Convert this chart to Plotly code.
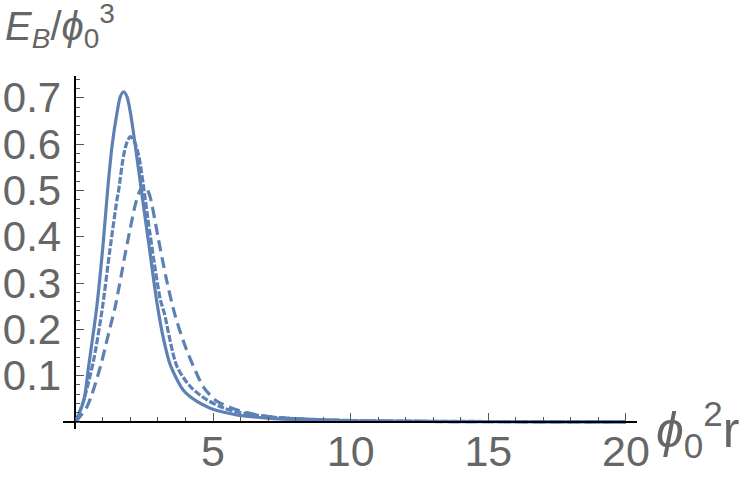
import plotly.graph_objects as go

# Curve data (x = phi0^2 r, y = E_B / phi0^3)
x_solid = [0, 0.3, 0.48, 0.77, 1.0, 1.17, 1.33, 1.51, 1.63, 1.75, 1.87, 2.0, 2.18, 2.42, 2.7, 2.97, 3.2, 3.45, 3.93, 4.4, 4.9, 5.4, 5.9, 7.1, 8.9, 11, 14, 17, 20]
y_solid = [0, 0.045, 0.12, 0.245, 0.38, 0.50, 0.595, 0.667, 0.702, 0.713, 0.703, 0.667, 0.595, 0.49, 0.37, 0.255, 0.18, 0.123, 0.068, 0.045, 0.030, 0.021, 0.015, 0.008, 0.004, 0.002, 0.001, 0.0005, 0.0003]

x_dashdot = [0, 0.3, 0.65, 0.97, 1.25, 1.51, 1.57, 1.75, 1.88, 2.0, 2.13, 2.3, 2.54, 2.63, 2.9, 3.09, 3.23, 3.69, 4.2, 4.78, 5.4, 6.2, 7.5, 9.5, 12, 16, 20]
y_dashdot = [0, 0.047, 0.13, 0.242, 0.37, 0.48, 0.50, 0.575, 0.605, 0.616, 0.607, 0.575, 0.48, 0.44, 0.33, 0.263, 0.235, 0.12, 0.075, 0.048, 0.03, 0.018, 0.009, 0.004, 0.002, 0.001, 0.0004]

x_dashed = [0, 0.42, 0.91, 1.2, 1.45, 1.8, 2.0, 2.18, 2.33, 2.47, 2.6, 2.72, 3.0, 3.3, 3.6, 3.95, 4.29, 4.66, 5.14, 6.1, 7.1, 8.5, 10, 13, 16, 20]
y_dashed = [0, 0.033, 0.12, 0.19, 0.25, 0.36, 0.42, 0.47, 0.498, 0.51, 0.503, 0.485, 0.40, 0.31, 0.235, 0.17, 0.12, 0.075, 0.045, 0.022, 0.011, 0.006, 0.003, 0.0012, 0.0006, 0.0003]

x_ticks = [5, 10, 15, 20]
x_ticklabels = ["5", "10", "15", "20"]
y_ticks = [0.1, 0.2, 0.3, 0.4, 0.5, 0.6, 0.7]
y_ticklabels = ["0.1", "0.2", "0.3", "0.4", "0.5", "0.6", "0.7"]

color = "#5E81B5"
fig = go.Figure()
fig.add_trace(go.Scatter(x=x_solid, y=y_solid, mode="lines",
                         line=dict(color=color, width=3.2, shape="spline", smoothing=0.8)))
fig.add_trace(go.Scatter(x=x_dashdot, y=y_dashdot, mode="lines",
                         line=dict(color=color, width=3.2, dash="7px,2px", shape="spline", smoothing=0.8)))
fig.add_trace(go.Scatter(x=x_dashed, y=y_dashed, mode="lines",
                         line=dict(color=color, width=3.2, dash="11px,6px", shape="spline", smoothing=0.8)))

xr = [-0.45, 20.4]
yr = [-0.015, 0.747]
xpos = (0 - yr[0]) / (yr[1] - yr[0])
ypos = (0 - xr[0]) / (xr[1] - xr[0])

font_family = "Liberation Sans, Arial, sans-serif"
gray = "#666666"

fig.update_layout(
    width=747, height=486,
    margin=dict(l=63, r=110, t=76, b=57, autoexpand=False),
    paper_bgcolor="white", plot_bgcolor="white",
    showlegend=False,
    font=dict(family=font_family, color=gray, size=44),
    xaxis=dict(range=xr, anchor="free", position=xpos, showgrid=False, zeroline=False,
               automargin=False,
               showline=True, linecolor="black", linewidth=1.5,
               tickmode="array", tickvals=x_ticks, ticktext=x_ticklabels,
               ticks="inside", ticklen=8, tickwidth=1.2, tickcolor="#555555",
               tickfont=dict(size=43, color=gray, family=font_family),
               minor=dict(dtick=1, tick0=0, ticks="inside", ticklen=4, tickwidth=1, tickcolor="#555555"),
               ticklabelstandoff=-8),
    yaxis=dict(range=yr, anchor="free", position=ypos, showgrid=False, zeroline=False,
               automargin=False,
               showline=True, linecolor="black", linewidth=1.5,
               tickmode="array", tickvals=y_ticks, ticktext=y_ticklabels,
               ticks="inside", ticklen=8, tickwidth=1.2, tickcolor="#555555",
               tickfont=dict(size=42, color=gray, family=font_family),
               minor=dict(dtick=0.02, tick0=0, ticks="inside", ticklen=4, tickwidth=1, tickcolor="#555555"),
               ticklabelstandoff=5),
)

fig.add_annotation(xref="paper", yref="paper", x=-0.104, y=1.228, xanchor="left", yanchor="top",
                   showarrow=False, align="left",
                   text="<i>E</i><sub><i>B</i></sub>/<i>ϕ</i><sub>0</sub><sup>3</sup>",
                   font=dict(size=40, color=gray, family=font_family))
fig.add_annotation(xref="paper", yref="paper", x=1.03, y=0.0, xanchor="left", yanchor="middle",
                   showarrow=False, align="left",
                   text="<i>ϕ</i><sub>0</sub><sup>2</sup>r",
                   font=dict(size=50, color=gray, family=font_family))

fig.write_html("out.html", config={"displayModeBar": False},
               post_script="document.body.style.margin='0';")
